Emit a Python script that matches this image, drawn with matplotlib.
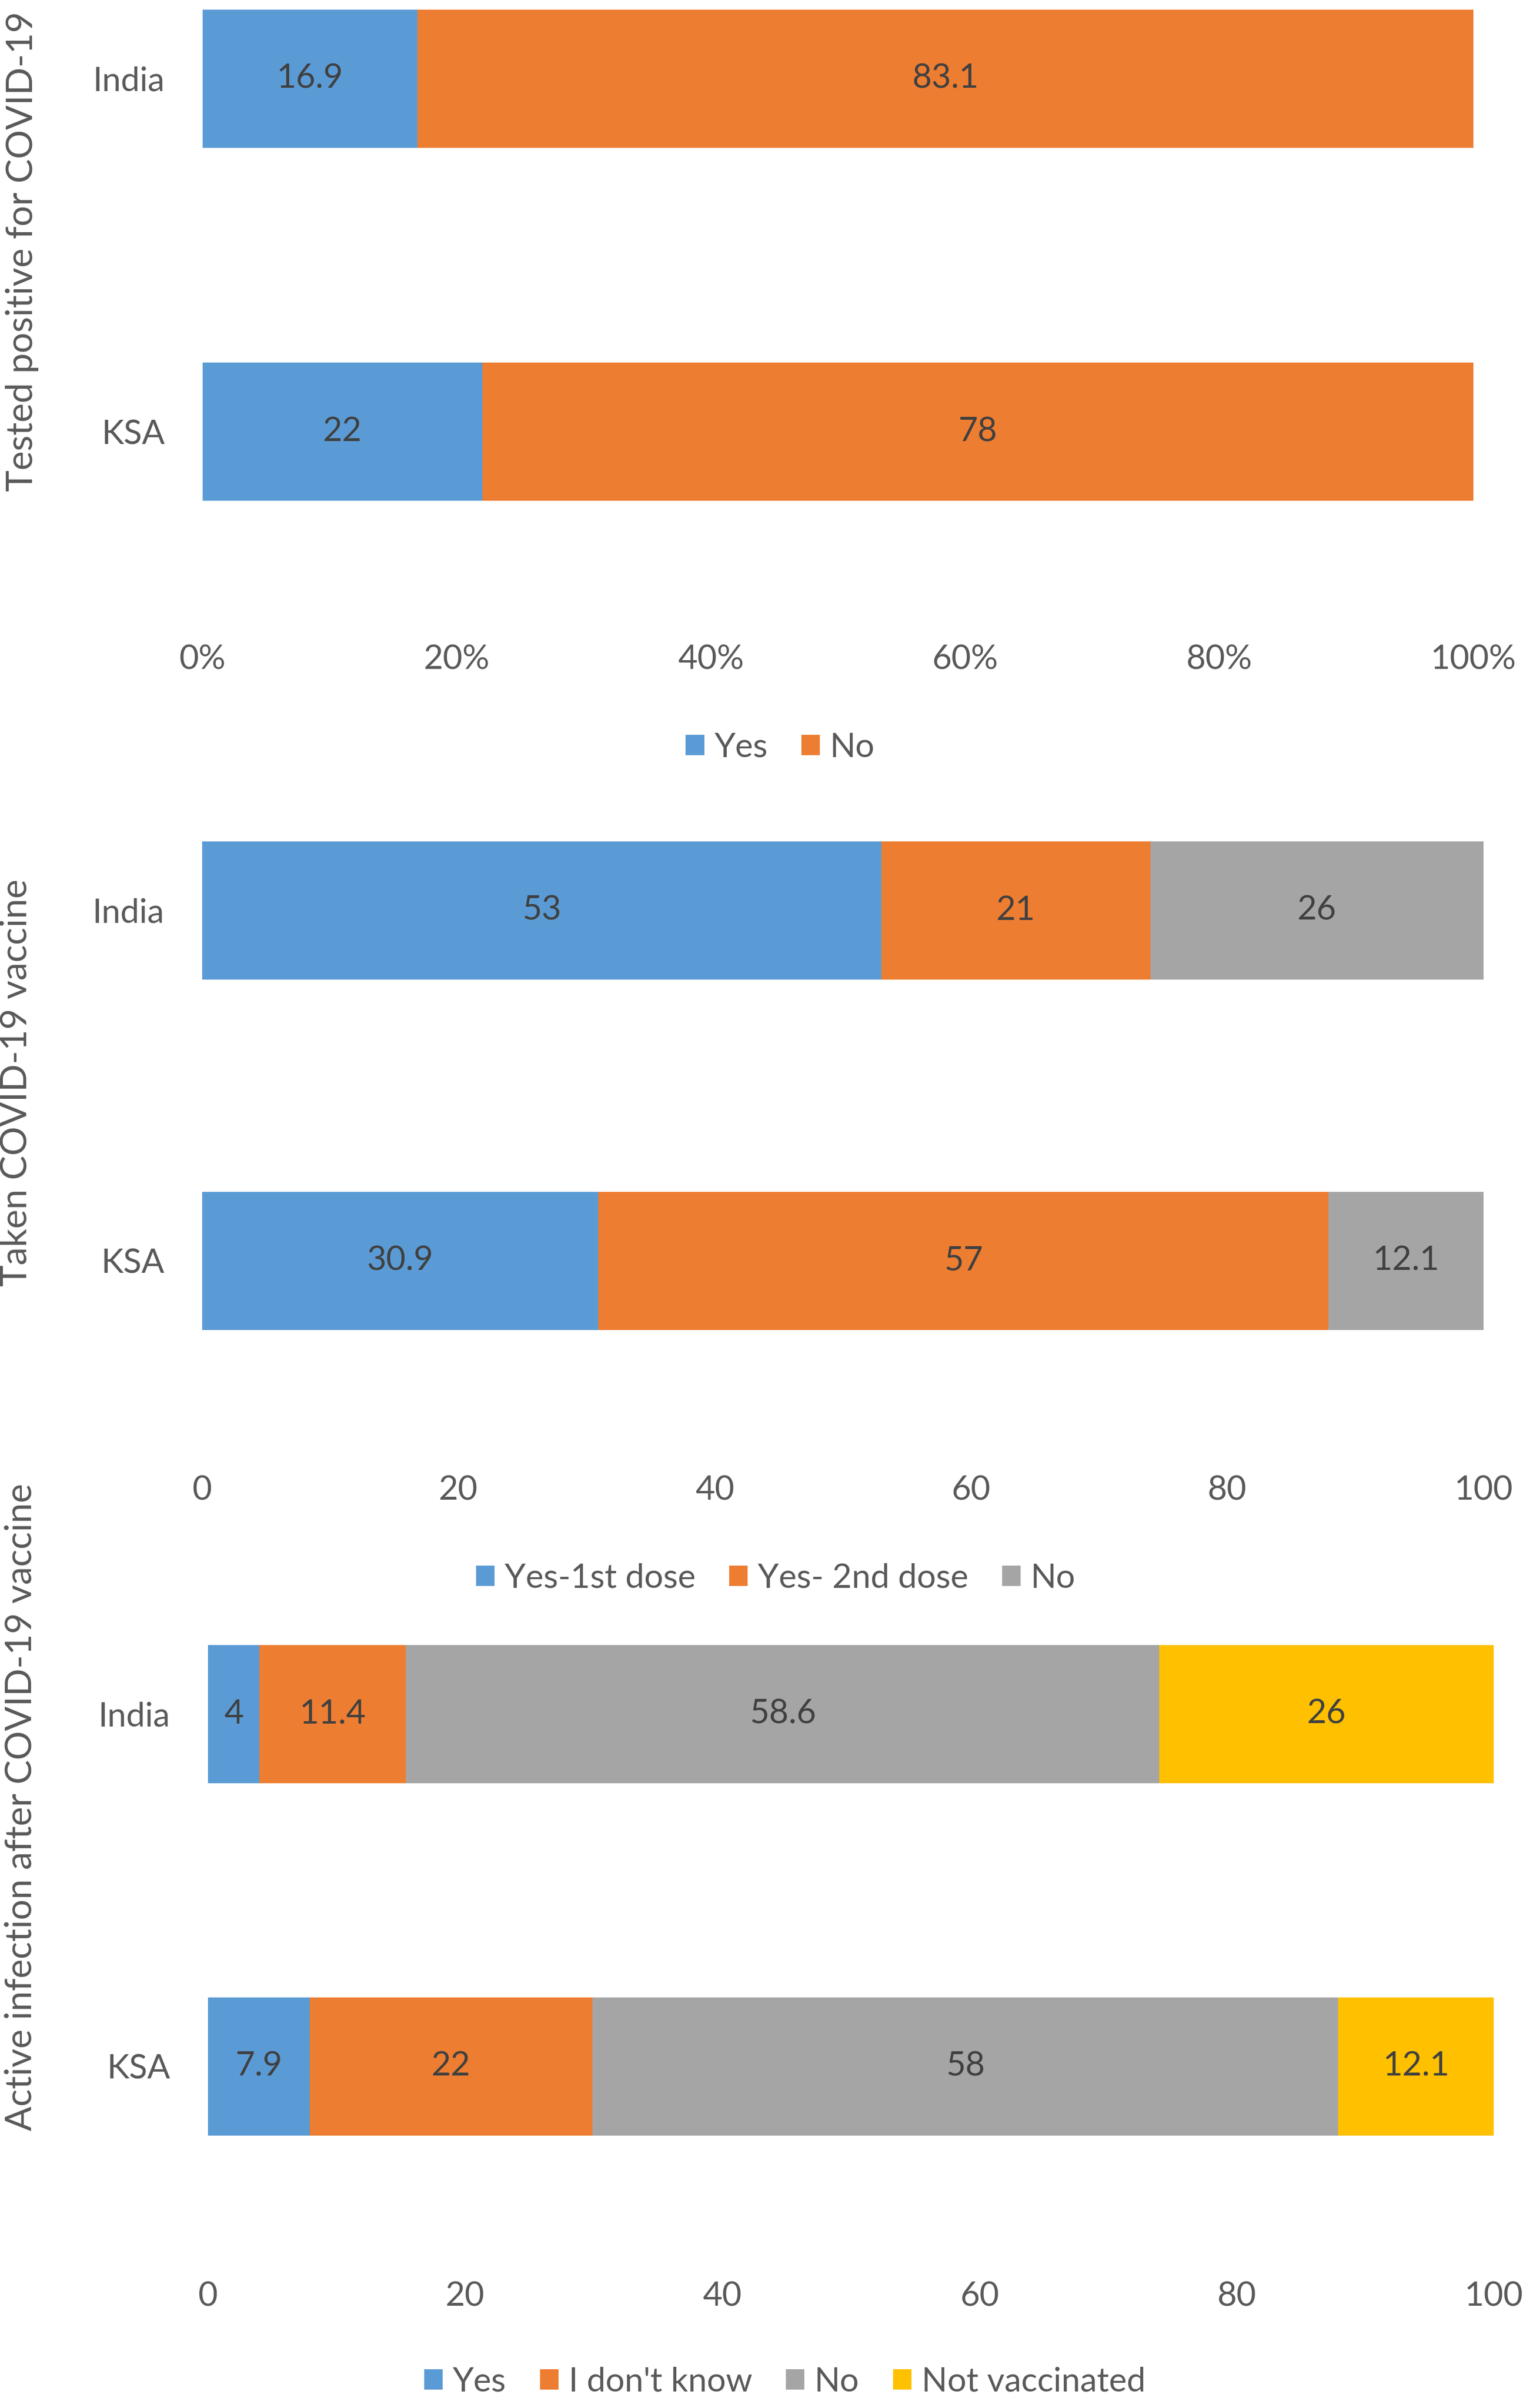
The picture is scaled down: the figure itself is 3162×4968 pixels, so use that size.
import matplotlib
matplotlib.use("Agg")
import matplotlib.pyplot as plt
from matplotlib.patches import Patch

plt.rcParams['font.family'] = ['Lato', 'DejaVu Sans']

countries = ["India", "KSA"]

# Panel 1: Tested positive for COVID-19
p1_series = ["Yes", "No"]
p1_values = {"Yes": [16.9, 22], "No": [83.1, 78]}
p1_ticks = ["0%", "20%", "40%", "60%", "80%", "100%"]

# Panel 2: Taken COVID-19 vaccine
p2_series = ["Yes-1st dose", "Yes- 2nd dose", "No"]
p2_values = {"Yes-1st dose": [53, 30.9], "Yes- 2nd dose": [21, 57], "No": [26, 12.1]}
p2_ticks = ["0", "20", "40", "60", "80", "100"]

# Panel 3: Active infection after COVID-19 vaccine
p3_series = ["Yes", "I don't know", "No", "Not vaccinated"]
p3_values = {"Yes": [4, 7.9], "I don't know": [11.4, 22], "No": [58.6, 58], "Not vaccinated": [26, 12.1]}
p3_ticks = ["0", "20", "40", "60", "80", "100"]

tick_vals = [0, 20, 40, 60, 80, 100]
ylabels = ["Tested positive for COVID-19", "Taken COVID-19 vaccine",
           "Active infection after COVID-19 vaccine"]

COLORS = ["#5B9BD5", "#ED7D31", "#A5A5A5", "#FFC000"]
TXT = "#595959"
LBL = "#404040"

W, H = 3162, 4968
fig = plt.figure(figsize=(W / 100, H / 100), dpi=100)

# layout in pixels: (top, bottom, India centre, KSA centre, x0, x100)
layouts = [
    (0, 1313, 162, 891, 418, 3039),
    (1700, 3027, 1878, 2601, 417, 3060),
    (3350, 4690, 3536, 4263, 429, 3081),
]
legend_pos = [(0.509, 1 - 1542 / H), (0.506, 1 - 3256 / H), (0.512, 1 - 4914 / H)]
ylabel_pos = [(0.0145, 1 - 519 / H), (0.0105, 1 - 2234 / H), (0.0137, 1 - 3728 / H)]

panels = [(p1_series, p1_values, p1_ticks), (p2_series, p2_values, p2_ticks),
          (p3_series, p3_values, p3_ticks)]

FS = 50
for i, ((series, values, ticks), (T, B, cI, cK, x0, x1)) in enumerate(zip(panels, layouts)):
    s = cK - cI
    ax = fig.add_axes([x0 / W, 1 - B / H, (x1 - x0) / W, (B - T) / H])
    ypos = [1, 0]
    bh = 285 / s
    left = [0.0, 0.0]
    for j, name in enumerate(series):
        vals = values[name]
        ax.barh(ypos, vals, left=left, height=bh, color=COLORS[j], edgecolor='none')
        for yy, l, v in zip(ypos, left, vals):
            ax.text(l + v / 2, yy, f"{v:g}", ha='center', va='center', fontsize=FS, color=LBL)
        left = [a + b for a, b in zip(left, vals)]
    ax.set_xlim(0, 100)
    ax.set_ylim(1 - (B - cI) / s, 1 + (cI - T) / s)
    ax.set_yticks(ypos)
    ax.set_yticklabels(countries)
    ax.set_xticks(tick_vals)
    ax.set_xticklabels(ticks)
    ax.tick_params(axis='x', length=0, pad=12, labelsize=FS, labelcolor=TXT)
    ax.tick_params(axis='y', length=0, pad=56, labelsize=FS, labelcolor=TXT)
    for sp in ax.spines.values():
        sp.set_visible(False)
    handles = [Patch(facecolor=COLORS[j], edgecolor='none') for j in range(len(series))]
    fig.legend(handles, series, loc='center', bbox_to_anchor=legend_pos[i], ncol=len(series),
               frameon=False, fontsize=FS, labelcolor=TXT, handlelength=0.55, handleheight=0.55,
               handletextpad=0.3, columnspacing=1.0)
    fig.text(ylabel_pos[i][0], ylabel_pos[i][1], ylabels[i], rotation=90, ha='center', va='center',
             fontsize=54, color=TXT)

fig.savefig("out.png", dpi=100, facecolor='white')
